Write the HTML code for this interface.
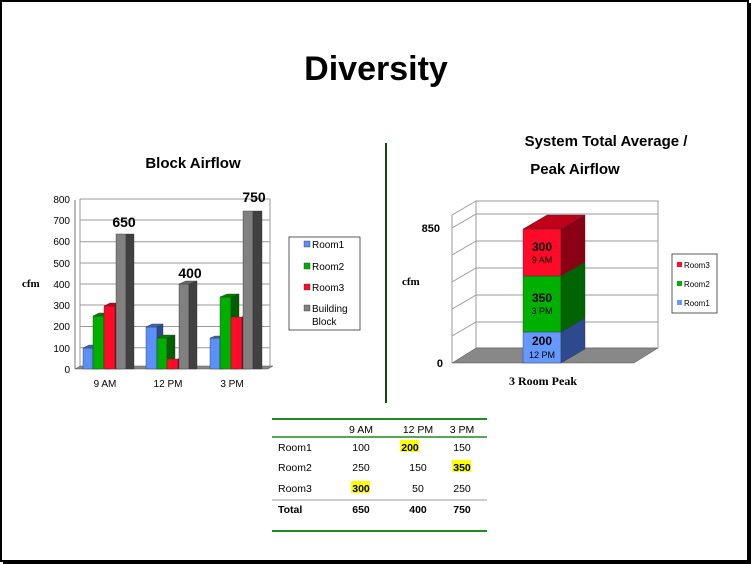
<!DOCTYPE html>
<html><head><meta charset="utf-8"><style>
html,body{margin:0;padding:0;background:#fff}
body{width:752px;height:564px;overflow:hidden;position:relative}
svg{position:absolute;left:0;top:0}
text{font-family:"Liberation Sans",sans-serif}
</style></head><body>
<svg width="752" height="564" viewBox="0 0 752 564">
<rect x="1" y="1" width="747" height="560" fill="#fff" stroke="#000" stroke-width="2"/>
<rect x="748" y="3" width="3" height="560" fill="#000"/>
<rect x="3" y="561" width="748" height="3" fill="#000"/>
<text x="376" y="80" font-size="34" font-weight="bold" text-anchor="middle">Diversity</text>
<text x="193" y="168" font-size="15" font-weight="bold" text-anchor="middle">Block Airflow</text>
<text x="606" y="146" font-size="15" font-weight="bold" text-anchor="middle">System Total Average /</text>
<text x="575" y="174" font-size="15" font-weight="bold" text-anchor="middle">Peak Airflow</text>
<line x1="386" y1="143" x2="386" y2="403" stroke="#0b4d0b" stroke-width="2"/>

<!-- Left chart -->
<g font-size="10">
<g stroke="#999" stroke-width="1">
<line x1="80" y1="199" x2="270" y2="199"/><line x1="80" y1="220" x2="270" y2="220"/>
<line x1="80" y1="241.75" x2="270" y2="241.75"/><line x1="80" y1="263" x2="270" y2="263"/>
<line x1="80" y1="284" x2="270" y2="284"/><line x1="80" y1="305" x2="270" y2="305"/>
<line x1="80" y1="326.5" x2="270" y2="326.5"/><line x1="80" y1="347.75" x2="270" y2="347.75"/>
<line x1="80" y1="199" x2="80" y2="366"/><line x1="270" y1="199" x2="270" y2="366"/>
</g>
<polygon points="75,369 80,366 273,366 268,369" fill="#888" stroke="#555" stroke-width=".5"/>
<line x1="75" y1="200" x2="75" y2="369" stroke="#777"/>
<g text-anchor="end">
<text x="70" y="203">800</text><text x="70" y="224">700</text><text x="70" y="245">600</text><text x="70" y="267">500</text>
<text x="70" y="288">400</text><text x="70" y="309">300</text><text x="70" y="330">200</text><text x="70" y="352">100</text><text x="70" y="373">0</text>
</g>
</g>
<g stroke="#333" stroke-width=".4">
<!-- 9AM -->
<polygon points="83,348 93,348 93,369 83,369" fill="#5b8ff9"/><polygon points="93,348 99,345 99,369 93,369" fill="#2b4a8a"/><polygon points="83,348 89,345 99,345 93,348" fill="#3d64b5"/>
<polygon points="93,316 104,316 104,369 93,369" fill="#00b000"/><polygon points="104,316 110,313 110,369 104,369" fill="#006000"/><polygon points="93,316 99,313 110,313 104,316" fill="#008000"/>
<polygon points="104,306 115,306 115,369 104,369" fill="#ff0a28"/><polygon points="115,306 121,303 121,369 115,369" fill="#9a0015"/><polygon points="104,306 110,303 121,303 115,306" fill="#c00020"/>
<polygon points="116,234 126,234 126,369 116,369" fill="#808080"/><polygon points="126,234 134,234 134,369 126,369" fill="#404040"/>
<!-- 12PM -->
<polygon points="146,327 157,327 157,369 146,369" fill="#5b8ff9"/><polygon points="157,327 163,324 163,369 157,369" fill="#2b4a8a"/><polygon points="146,327 152,324 163,324 157,327" fill="#3d64b5"/>
<polygon points="157,338 167,338 167,369 157,369" fill="#00b000"/><polygon points="167,338 175,335 175,369 167,369" fill="#006000"/><polygon points="157,338 163,335 175,335 167,338" fill="#008000"/>
<polygon points="167,359 178,359 178,369 167,369" fill="#ff0a28"/><polygon points="178,359 181,357 181,369 178,369" fill="#9a0015"/>
<polygon points="179,284 189,284 189,369 179,369" fill="#808080"/><polygon points="189,284 197,281 197,369 189,369" fill="#404040"/><polygon points="179,284 186,281 197,281 189,284" fill="#666"/>
<!-- 3PM -->
<polygon points="210,338 220,338 220,369 210,369" fill="#5b8ff9"/><polygon points="220,338 224,336 224,369 220,369" fill="#2b4a8a"/><polygon points="210,338 215,336 224,336 220,338" fill="#3d64b5"/>
<polygon points="220,297 231,297 231,369 220,369" fill="#00b000"/><polygon points="231,297 239,294 239,369 231,369" fill="#006000"/><polygon points="220,297 227,294 239,294 231,297" fill="#008000"/>
<polygon points="231,317 242,317 242,369 231,369" fill="#ff0a28"/><polygon points="242,317 246,314 246,369 242,369" fill="#9a0015"/>
<polygon points="243,211 253,211 253,369 243,369" fill="#808080"/><polygon points="253,211 262,211 262,369 253,369" fill="#404040"/>
</g>
<g font-size="14" font-weight="bold" text-anchor="middle">
<text x="124" y="227">650</text><text x="190" y="278">400</text><text x="254" y="202">750</text>
</g>
<g font-size="10" text-anchor="middle"><text x="105" y="387">9 AM</text><text x="168" y="387">12 PM</text><text x="232" y="387">3 PM</text></g>
<text x="22" y="287" font-family="Liberation Serif,serif" font-size="11" font-weight="bold" style="font-family:'Liberation Serif',serif">cfm</text>
<rect x="289" y="237" width="71" height="93" fill="#fff" stroke="#333" stroke-width=".8"/>
<g font-size="10">
<rect x="304" y="241" width="6" height="6" fill="#5b8ff9" stroke="#333" stroke-width=".4"/><text x="312" y="248">Room1</text>
<rect x="304" y="263" width="6" height="6" fill="#00b000" stroke="#333" stroke-width=".4"/><text x="312" y="270">Room2</text>
<rect x="304" y="284" width="6" height="6" fill="#ff0a28" stroke="#333" stroke-width=".4"/><text x="312" y="291">Room3</text>
<rect x="304" y="305" width="6" height="6" fill="#808080" stroke="#333" stroke-width=".4"/><text x="312" y="312">Building</text><text x="312" y="325">Block</text>
</g>

<!-- Right chart -->
<g stroke="#999" stroke-width="1" fill="none">
<rect x="476" y="201" width="182" height="147"/>
<line x1="476" y1="214" x2="658" y2="214"/><line x1="476" y1="241" x2="658" y2="241"/>
<line x1="476" y1="268" x2="658" y2="268"/><line x1="476" y1="295" x2="658" y2="295"/><line x1="476" y1="322" x2="658" y2="322"/>
<line x1="452" y1="215" x2="476" y2="201"/><line x1="452" y1="228" x2="476" y2="214"/><line x1="452" y1="255" x2="476" y2="241"/>
<line x1="452" y1="282" x2="476" y2="268"/><line x1="452" y1="309" x2="476" y2="295"/><line x1="452" y1="336" x2="476" y2="322"/>
<line x1="452" y1="215" x2="452" y2="363"/>
</g>
<polygon points="452,363 476,348 658,348 634,363" fill="#888" stroke="#555" stroke-width=".5"/>
<g stroke="#333" stroke-width=".4">
<polygon points="523,332 561,332 561,363 523,363" fill="#6699ff"/><polygon points="561,332 585,318 585,349 561,363" fill="#2e4a8e"/>
<polygon points="523,276 561,276 561,332 523,332" fill="#00b000"/><polygon points="561,276 585,262 585,318 561,332" fill="#006400"/>
<polygon points="523,229 561,229 561,276 523,276" fill="#ff0a28"/><polygon points="561,229 585,215 585,262 561,276" fill="#8a0015"/>
<polygon points="523,229 547,215 585,215 561,229" fill="#c00018"/>
</g>
<g text-anchor="middle">
<text x="542" y="251" font-size="12" font-weight="bold">300</text><text x="542" y="263" font-size="9">9 AM</text>
<text x="542" y="302" font-size="12" font-weight="bold">350</text><text x="542" y="314" font-size="9">3 PM</text>
<text x="542" y="345" font-size="12" font-weight="bold">200</text><text x="542" y="358" font-size="9">12 PM</text>
</g>
<text x="440" y="232" font-size="11" font-weight="bold" text-anchor="end">850</text>
<text x="443" y="367" font-size="11" font-weight="bold" text-anchor="end">0</text>
<text x="402" y="285" font-size="11" font-weight="bold" style="font-family:'Liberation Serif',serif">cfm</text>
<text x="543" y="385" font-size="12" font-weight="bold" text-anchor="middle" style="font-family:'Liberation Serif',serif">3 Room Peak</text>
<rect x="672" y="254" width="45" height="59" fill="#fff" stroke="#333" stroke-width=".8"/>
<g font-size="8">
<rect x="677" y="262" width="5" height="5" fill="#ff0a28"/><text x="684" y="268">Room3</text>
<rect x="677" y="281" width="5" height="5" fill="#00b000"/><text x="684" y="287">Room2</text>
<rect x="677" y="300" width="5" height="5" fill="#6699ff"/><text x="684" y="306">Room1</text>
</g>

<!-- Table -->
<line x1="272" y1="419" x2="487" y2="419" stroke="#1f8a1f" stroke-width="2"/>
<line x1="272" y1="437" x2="487" y2="437" stroke="#1f8a1f" stroke-width="1.5"/>
<line x1="272" y1="500" x2="487" y2="500" stroke="#999" stroke-width="1"/>
<line x1="272" y1="531" x2="487" y2="531" stroke="#1f8a1f" stroke-width="2"/>
<rect x="400" y="440" width="19" height="12" fill="#ffff00"/>
<rect x="452" y="460" width="19" height="12" fill="#ffff00"/>
<rect x="351" y="481" width="19" height="12" fill="#ffff00"/>
<g font-size="10.5">
<g text-anchor="middle">
<text x="361" y="433">9 AM</text><text x="418" y="433">12 PM</text><text x="462" y="433">3 PM</text>
<text x="361" y="451">100</text><text x="410" y="451" font-weight="bold">200</text><text x="462" y="451">150</text>
<text x="361" y="471">250</text><text x="418" y="471">150</text><text x="462" y="471" font-weight="bold">350</text>
<text x="361" y="492" font-weight="bold">300</text><text x="418" y="492">50</text><text x="462" y="492">250</text>
<text x="361" y="513" font-weight="bold">650</text><text x="418" y="513" font-weight="bold">400</text><text x="462" y="513" font-weight="bold">750</text>
</g>
<text x="278" y="451">Room1</text><text x="278" y="471">Room2</text><text x="278" y="492">Room3</text>
<text x="278" y="513" font-weight="bold">Total</text>
</g>
</svg>
</body></html>
